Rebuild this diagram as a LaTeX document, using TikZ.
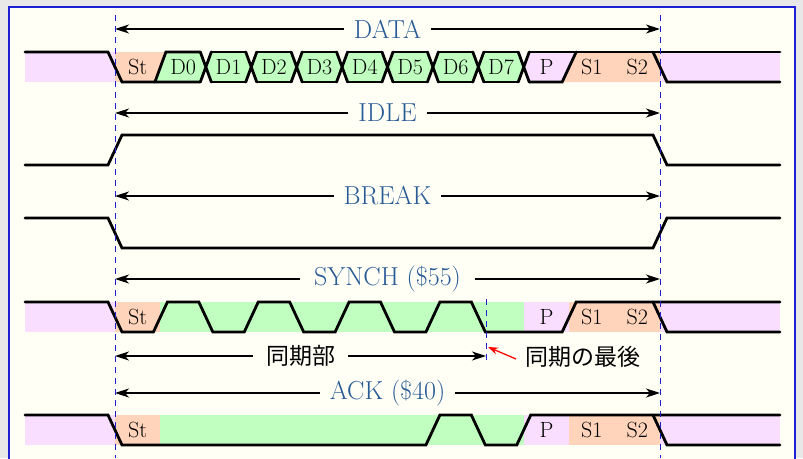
\documentclass[tikz,border=0pt]{standalone}
\usepackage{fontspec}
\newfontfamily\jpfont{Noto Sans CJK JP}
\usetikzlibrary{arrows.meta}

\definecolor{gris}{RGB}{232,232,232}
\definecolor{ivoire}{RGB}{255,255,245}
\definecolor{bleucadre}{RGB}{30,30,210}
\definecolor{bleutitre}{RGB}{40,90,150}
\definecolor{rose}{RGB}{249,222,255}
\definecolor{saumon}{RGB}{255,212,186}
\definecolor{vert}{RGB}{192,255,192}

% position du début du bit n
\newcommand{\posbit}[1]{(115+(#1)*45.4167)}

\begin{document}
\begin{tikzpicture}[x=1pt, y=-1pt]
% définition des styles
\tikzstyle{signal}=[line width=2.8pt, line cap=round, color=black]
\tikzstyle{cote}=[<->, >={Stealth[length=14pt, width=9pt, inset=4pt]}, line width=1.3pt]
\tikzstyle{titre}=[fill=ivoire, text=bleutitre, inner xsep=10pt, inner ysep=2pt, font=\fontsize{26}{30}\selectfont]
\tikzstyle{bit}=[inner sep=0pt, font=\fontsize{22}{26}\selectfont]
\tikzstyle{jp}=[font=\jpfont\fontsize{23}{27}\selectfont]
\tikzstyle{repere}=[color=bleucadre, dash pattern=on 6pt off 5pt, line width=1pt]

% le cadre
\useasboundingbox (0,0) rectangle (803,458);
\clip (0,0) rectangle (803,458);
\fill[gris] (0,0) rectangle (803,458);
\filldraw[fill=ivoire, draw=bleucadre, line width=2pt] (9,7) rectangle (795,480);

% ligne DATA
\fill[rose] (25,52) rectangle (115,82);
\fill[saumon] (115,52) -- ({\posbit{1}+5.5},52) -- ({\posbit{1}-5.5},82) -- (115,82) -- cycle;
\fill[vert] ({\posbit{1}+5.5},52) -- ({\posbit{2}-5.5},52) -- ({\posbit{2}},67) -- ({\posbit{2}-5.5},82) -- ({\posbit{1}-5.5},82) -- cycle;
\foreach \k in {2,...,8}
  \fill[vert] ({\posbit{\k}},67) -- ({\posbit{\k}+5.5},52) -- ({\posbit{\k+1}-5.5},52) -- ({\posbit{\k+1}},67) -- ({\posbit{\k+1}-5.5},82) -- ({\posbit{\k}+5.5},82) -- cycle;
\fill[rose] ({\posbit{9}},67) -- ({\posbit{9}+5.5},52) -- ({\posbit{10}+7},52) -- ({\posbit{10}-7},82) -- ({\posbit{9}+5.5},82) -- cycle;
\fill[saumon] ({\posbit{10}+7},52) -- (660,52) -- (660,82) -- ({\posbit{10}-7},82) -- cycle;
\fill[rose] (660,52) rectangle (780,82);

\draw[signal] (25,52) -- (108,52) -- (122,82) -- ({\posbit{2}-5.5},82);
\draw[signal] ({\posbit{1}-5.5},82) -- ({\posbit{1}+5.5},52) -- ({\posbit{2}-5.5},52);
\foreach \k in {2,...,9}
  \draw[signal] ({\posbit{\k}-5.5},52) -- ({\posbit{\k}+5.5},82) ({\posbit{\k}-5.5},82) -- ({\posbit{\k}+5.5},52);
\foreach \k in {2,...,8}
  \draw[signal] ({\posbit{\k}+5.5},52) -- ({\posbit{\k+1}-5.5},52) ({\posbit{\k}+5.5},82) -- ({\posbit{\k+1}-5.5},82);
\draw[signal] ({\posbit{9}+5.5},82) -- ({\posbit{10}-7},82) -- ({\posbit{10}+7},52);
\draw[signal] ({\posbit{9}+5.5},52) -- (780,52);
\draw[signal] (653,52) -- (667,82) -- (780,82);

\foreach \t [count=\k from 0] in {St,D0,D1,D2,D3,D4,D5,D6,D7,P,S1,S2}
  \node[bit] (data\k) at ({\posbit{\k}+22.7},67) {\t};

% lignes IDLE et BREAK
\draw[signal] (25,165) -- (108,165) -- (122,135) -- (653,135) -- (667,165) -- (780,165);
\draw[signal] (25,218) -- (108,218) -- (122,248) -- (653,248) -- (667,218) -- (780,218);

% remplissage SYNCH et ACK
\foreach \h in {302,415} {
  \fill[rose] (25,\h) rectangle (115,\h+30);
  \fill[saumon] (115,\h) rectangle ({\posbit{1}},\h+30);
  \fill[vert] ({\posbit{1}},\h) rectangle ({\posbit{9}},\h+30);
  \fill[rose] ({\posbit{9}},\h) rectangle ({\posbit{10}},\h+30);
  \fill[saumon] ({\posbit{10}},\h) rectangle (660,\h+30);
  \fill[rose] (660,\h) rectangle (780,\h+30);
}

% ligne SYNCH
\draw[signal] (25,302) -- (108,302) -- (122,332)
  \foreach \k in {1,3,5,7} { -- ({\posbit{\k}-7},332) -- ({\posbit{\k}+7},302) -- ({\posbit{\k+1}-7},302) -- ({\posbit{\k+1}+7},332) }
  -- ({\posbit{10}-7},332) -- ({\posbit{10}+7},302) -- (780,302);
\draw[signal] (653,302) -- (667,332) -- (780,332);
\node[bit] (syncSt) at ({\posbit{0}+22.7},317) {St};
\node[bit] (syncP) at ({\posbit{9}+22.7},317) {P};
\node[bit] (syncSa) at ({\posbit{10}+22.7},317) {S1};
\node[bit] (syncSb) at ({\posbit{11}+22.7},317) {S2};

% ligne ACK
\draw[signal] (25,415) -- (108,415) -- (122,445) -- ({\posbit{7}-7},445) -- ({\posbit{7}+7},415) -- ({\posbit{8}-7},415) -- ({\posbit{8}+7},445) -- ({\posbit{9}-7},445) -- ({\posbit{9}+7},415) -- (780,415);
\draw[signal] (653,415) -- (667,445) -- (780,445);
\node[bit] (ackSt) at ({\posbit{0}+22.7},430) {St};
\node[bit] (ackP) at ({\posbit{9}+22.7},430) {P};
\node[bit] (ackSa) at ({\posbit{10}+22.7},430) {S1};
\node[bit] (ackSb) at ({\posbit{11}+22.7},430) {S2};

% les cotes
\coordinate (gData) at (115,29);   \coordinate (dData) at (660,29);
\coordinate (gIdle) at (115,113);  \coordinate (dIdle) at (660,113);
\coordinate (gBreak) at (115,196); \coordinate (dBreak) at (660,196);
\coordinate (gSynch) at (115,279); \coordinate (dSynch) at (660,279);
\coordinate (gSync) at (115,356);  \coordinate (finSync) at (486,356);
\coordinate (gAck) at (115,393);   \coordinate (dAck) at (660,393);
\draw[cote] (gData) -- (dData) node[midway, titre] (tData) {DATA};
\draw[cote] (gIdle) -- (dIdle) node[midway, titre] (tIdle) {IDLE};
\draw[cote] (gBreak) -- (dBreak) node[midway, titre] (tBreak) {BREAK};
\draw[cote] (gSynch) -- (dSynch) node[midway, titre, inner xsep=14pt] (tSynch) {SYNCH (\$55)};
\draw[cote] (gSync) -- (finSync) node[midway, titre, jp, text=black, inner xsep=13pt] (tSync) {同期部};
\draw[cote] (gAck) -- (dAck) node[midway, titre] (tAck) {ACK (\$40)};

% la fin de la synchro
\coordinate (marque) at (488,347);
\node[jp, anchor=west, inner sep=0pt] (tDernier) at (525,357) {同期の最後};
\draw[->, >={Stealth[length=10pt, width=7pt]}, red, line width=1.3pt] ([xshift=-9pt, yshift=-2pt]tDernier.west) -- (marque);

% les repères
\draw[repere] (115,15) -- (115,458);
\draw[repere] (660,15) -- (660,458);
\draw[repere] (486,299) -- (486,363);
\end{tikzpicture}
\end{document}
